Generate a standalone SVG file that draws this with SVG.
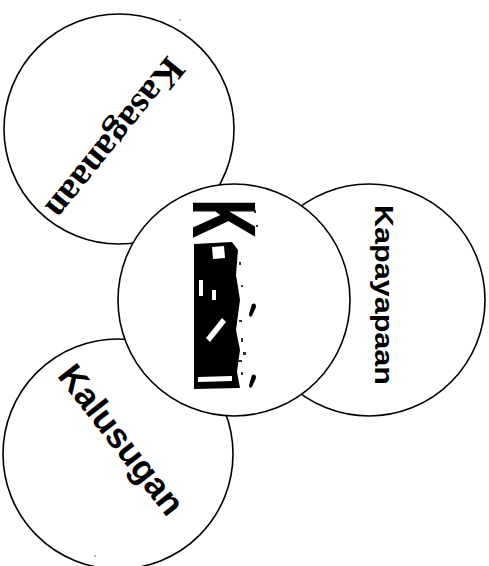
<svg xmlns="http://www.w3.org/2000/svg" width="489" height="566" viewBox="0 0 489 566">
  <style>
    .ring { fill: #ffffff; stroke: #000000; stroke-width: 1.6; }
    .sans { font-family: "Liberation Sans", Arial, sans-serif; font-weight: bold; fill: #000; }
    .serif { font-family: "Liberation Serif", "Times New Roman", serif; font-weight: bold; fill: #000; }
    .ink { fill: #000; }
    .hole { fill: #fff; }
    .speck { fill: #333; }
  </style>
  <rect x="0" y="0" width="489" height="566" fill="#ffffff"/>
  <g id="connectors"/>

  <g id="node-kasaganaan">
    <circle class="ring" cx="119" cy="129" r="115"/>
    <text class="serif" font-size="37" text-anchor="middle" textLength="196" lengthAdjust="spacingAndGlyphs" transform="translate(106 131) rotate(129)">Kasaganaan</text>
  </g>

  <g id="node-kalusugan">
    <circle class="ring" cx="118" cy="454" r="115"/>
    <text class="sans" font-size="35" text-anchor="middle" textLength="180" lengthAdjust="spacingAndGlyphs" transform="translate(112 447) rotate(52)">Kalusugan</text>
  </g>

  <g id="node-kapayapaan">
    <circle class="ring" cx="369" cy="300" r="116"/>
    <text class="sans" font-size="25" text-anchor="middle" textLength="180" lengthAdjust="spacingAndGlyphs" transform="translate(375 295) rotate(90)">Kapayapaan</text>
  </g>

  <g id="node-center">
    <circle class="ring" cx="234" cy="300" r="116"/>
    <text class="sans" font-size="88" textLength="37" lengthAdjust="spacingAndGlyphs" stroke="#000" stroke-width="2" transform="translate(194 200) rotate(90)">K</text>
    <path class="ink" d="M194 244 L232 242 L238 250 L236 275 L240 300 L236 330 L240 350 L237 372 L240 388 L194 389 Z"/>
    <path class="hole" d="M212 247 L224 246 L225 258 L213 259 Z"/>
    <path class="hole" d="M206 338 L222 318 L226 322 L210 342 Z"/>
    <path class="hole" d="M198 377 L232 376 L232 381 L198 382 Z"/>
    <path class="hole" d="M199 280 L203 280 L203 296 L199 296 Z"/>
    <path class="hole" d="M212 290 L216 290 L216 300 L212 300 Z"/>
    <g class="speck">
      <rect x="239" y="262" width="2" height="3"/>
      <rect x="241" y="285" width="2" height="2"/>
      <rect x="239" y="320" width="3" height="2"/>
      <rect x="241" y="338" width="2" height="4"/>
      <rect x="243" y="352" width="3" height="3"/>
      <rect x="238" y="360" width="4" height="2"/>
      <rect x="241" y="372" width="2" height="3"/>
      <rect x="254" y="210" width="2" height="3"/>
      <rect x="256" y="225" width="2" height="2"/>
    </g>
    <path class="ink" d="M252 304 Q256 302 256 307 L252 316 Q249 318 249 314 Z"/>
    <path class="ink" d="M252 375 Q256 373 256 378 L252 387 Q249 389 249 385 Z"/>
  </g>

  <circle cx="95" cy="556" r="0.8" fill="#555"/>
  <circle cx="180" cy="20" r="0.8" fill="#555"/>
</svg>
